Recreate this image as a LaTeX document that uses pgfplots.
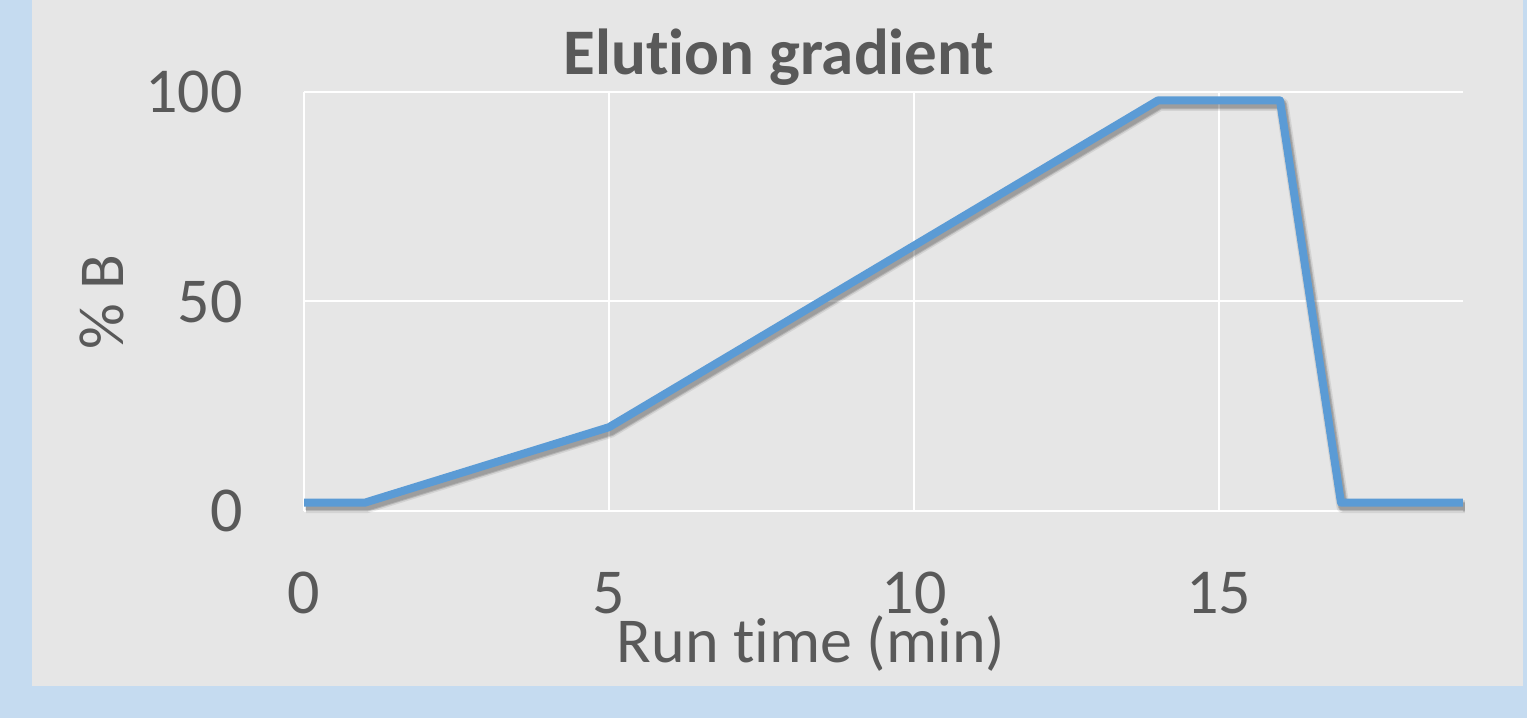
\documentclass[border=0pt]{standalone}
\usepackage{pgfplots}
\pgfplotsset{compat=1.18}
\usepackage{fontspec}
\setmainfont{Carlito}[Ligatures=NoCommon]
\definecolor{txt}{HTML}{595959}
\definecolor{bgblue}{HTML}{C5DBF0}
\definecolor{panel}{HTML}{E6E6E6}
\definecolor{lineblue}{HTML}{5B9BD5}
\begin{document}
\begin{tikzpicture}[x=1pt,y=1pt]
\fill[bgblue] (0,0) rectangle (1527,718);
\fill[panel] (32,32) rectangle (1523,718);
\begin{axis}[at={(304pt,207pt)}, anchor=south west, scale only axis,
  width=1159pt, height=419pt,
  xmin=0, xmax=19, ymin=0, ymax=100,
  xtick={0,5,10,15}, ytick={0,50,100},
  grid=major, grid style={white, line width=2pt},
  axis line style={draw=none}, major tick length=0pt,
  ticklabel style={font=\fontsize{64}{70}\selectfont, text=txt},
  /pgf/number format/assume math mode=true,
  xticklabel style={anchor=north, inner sep=0pt, yshift=-61pt},
  yticklabel style={anchor=east, inner sep=0pt, xshift=-61pt},
  clip=false]
\addplot[black, opacity=0.08, line width=13pt, line join=round, xshift=2pt, yshift=-4pt] coordinates {(0,2)(1,2)(5,20)(14,98)(16,98)(17,2)(19,2)};
\addplot[black, opacity=0.15, line width=10pt, line join=round, xshift=2pt, yshift=-4pt] coordinates {(0,2)(1,2)(5,20)(14,98)(16,98)(17,2)(19,2)};
\addplot[black, opacity=0.12, line width=8pt, line join=round, xshift=2pt, yshift=-4pt] coordinates {(0,2)(1,2)(5,20)(14,98)(16,98)(17,2)(19,2)};
\addplot[lineblue, line width=8pt, line join=round] coordinates {(0,2)(1,2)(5,20)(14,98)(16,98)(17,2)(19,2)};
\end{axis}
\node[font=\fontsize{65}{70}\selectfont\bfseries, text=txt, anchor=base, inner sep=0pt] at (779,643) {Elution gradient};
\node[font=\fontsize{64}{70}\selectfont, text=txt, anchor=base, inner sep=0pt] at (811,55) {Run time (min)};
\node[font=\fontsize{64}{70}\selectfont, text=txt, anchor=base, rotate=90, inner sep=0pt] at (123,416) {\% B};
\end{tikzpicture}
\end{document}
